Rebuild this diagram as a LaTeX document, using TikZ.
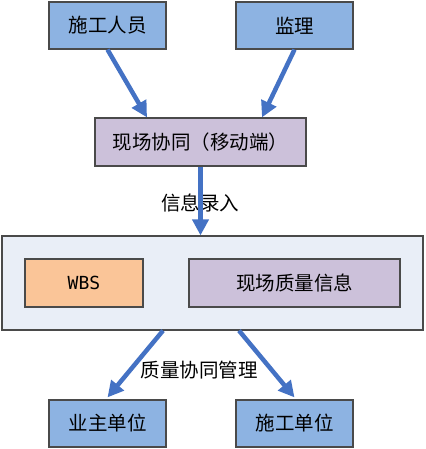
\documentclass[tikz,border=0pt]{standalone}
\usepackage{fontspec}
\setmainfont{Noto Sans CJK SC}
\newfontfamily\wbsfont{DejaVu Sans Mono}
\usetikzlibrary{arrows.meta}
\definecolor{boxblue}{HTML}{8DB3E2}
\definecolor{boxpurple}{HTML}{CCC1DA}
\definecolor{boxorange}{HTML}{FAC598}
\definecolor{panelbg}{HTML}{E9EEF7}
\definecolor{edgegray}{HTML}{4A4A4A}
\definecolor{arrowblue}{HTML}{4472C4}
\tikzset{
  roleBox/.style={draw=edgegray,line width=1.2pt,fill=boxblue,minimum width=117pt,minimum height=47pt,inner sep=0pt},
  infoBox/.style={draw=edgegray,line width=1.2pt,fill=boxpurple,minimum width=211pt,minimum height=48pt,inner sep=0pt},
  flowArrow/.style={draw=arrowblue,line width=4.5pt,-{Triangle[width=16pt,length=16pt]}},
  cnText/.style={font=\fontsize{19.5}{21}\selectfont}
}
\begin{document}
\begin{tikzpicture}[x=1pt,y=-1pt]
\useasboundingbox (0,0) rectangle (425,449);
%上层角色
\node [roleBox,cnText] (worker) at (107.5,25.5) {施工人员};
\node [roleBox,cnText] (supervisor) at (294.5,25.5) {监理};
%移动端
\node [infoBox,cnText] (mobile) at (200.5,142) {现场协同（移动端）};
%平台
\node [draw=edgegray,line width=1.2pt,fill=panelbg,minimum width=421pt,minimum height=94pt,inner sep=0pt] (platform) at (212.5,283) {};
\node [draw=edgegray,line width=1.2pt,fill=boxorange,minimum width=118pt,minimum height=48pt,inner sep=0pt,font=\wbsfont\fontsize{18}{20}\selectfont] (wbs) at (84,283) {WBS};
\node [infoBox,cnText] (quality) at (294.5,283) {现场质量信息};
%下层单位
\node [roleBox,cnText] (owner) at (107.5,423.5) {业主单位};
\node [roleBox,cnText] (contractor) at (294.5,423.5) {施工单位};
%标注
\node [cnText] (entry) at (200,203) {信息录入};
\node [cnText] (manage) at (199,370) {质量协同管理};
%箭头
\draw [flowArrow] (worker.south) -- ([xshift=-53.5pt]mobile.north);
\draw [flowArrow] (supervisor.south) -- ([xshift=61.5pt]mobile.north);
\draw [flowArrow] (mobile.south) -- (mobile.south |- platform.north);
\draw [flowArrow] ([xshift=-49.5pt]platform.south) -- ([yshift=2pt]owner.north);
\draw [flowArrow] ([xshift=26.5pt]platform.south) -- ([yshift=2pt]contractor.north);
\end{tikzpicture}
\end{document}
